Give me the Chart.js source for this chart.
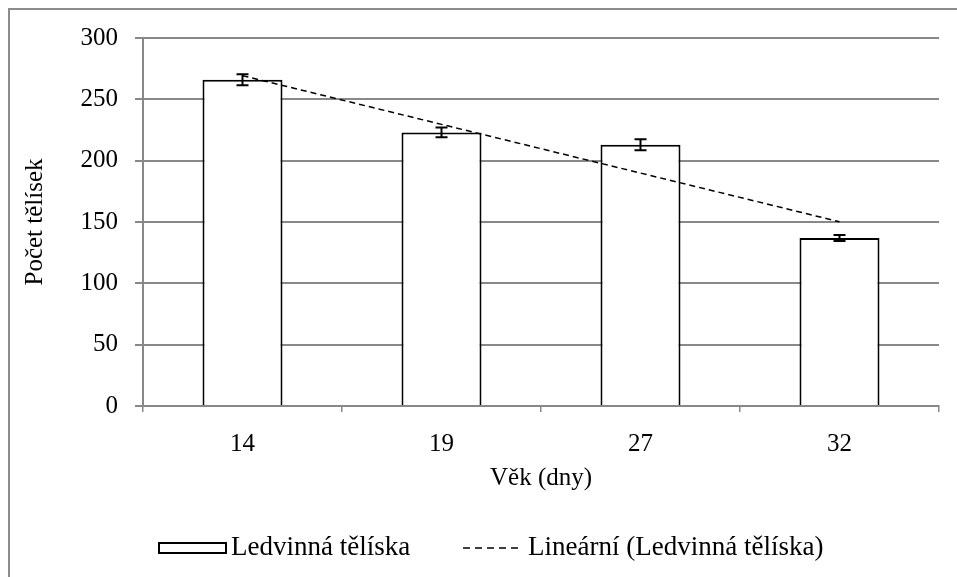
<!DOCTYPE html>
<html><head><meta charset="utf-8">
<script src="https://cdn.jsdelivr.net/npm/chart.js@4"></script>
<style>html,body{margin:0;padding:0;background:#fff;overflow:hidden}</style>
</head><body>
<canvas id="c" width="957" height="577" style="display:block;width:957px;height:577px"></canvas>
<script>
const categories = ['14', '19', '27', '32'];
const values = [266, 223, 213, 137];
const errors = [4.5, 4, 4.5, 2.5];
const yTickValues = [0, 50, 100, 150, 200, 250, 300];
const seriesName = 'Ledvinná tělíska';
const trendName = 'Lineární (Ledvinná tělíska)';
const xTitle = 'Věk (dny)';
const yTitle = 'Počet tělísek';

// Excel-style linear trendline (least squares over category index)
function linearTrend(v) {
  const n = v.length; let sx = 0, sy = 0, sxy = 0, sxx = 0;
  for (let i = 0; i < n; i++) { const x = i + 1; sx += x; sy += v[i]; sxy += x * v[i]; sxx += x * x; }
  const b = (n * sxy - sx * sy) / (n * sxx - sx * sx);
  const a = (sy - b * sx) / n;
  return v.map((_, i) => a + b * (i + 1));
}
const trend = linearTrend(values);

const GRID = '#888888';
const FONT = '"Liberation Serif", "Times New Roman", serif';
Chart.defaults.font.family = FONT;
Chart.defaults.color = '#000';

const frame = {
  id: 'frame',
  beforeDraw(chart) {
    const ctx = chart.ctx;
    ctx.save();
    ctx.fillStyle = '#fff';
    ctx.fillRect(0, 0, chart.width, chart.height);
    ctx.strokeStyle = '#8c8c8c';
    ctx.lineWidth = 2;
    ctx.strokeRect(9, 9, chart.width + 20, chart.height + 20);
    ctx.restore();
  }
};

const errorBars = {
  id: 'errorBars',
  afterDatasetsDraw(chart) {
    const ctx = chart.ctx;
    const meta = chart.getDatasetMeta(0);
    const y = chart.scales.y;
    ctx.save();
    ctx.strokeStyle = '#000';
    ctx.lineWidth = 2;
    meta.data.forEach((bar, i) => {
      const x = bar.x;
      const top = y.getPixelForValue(values[i] + errors[i]);
      const bot = y.getPixelForValue(values[i] - errors[i]);
      ctx.beginPath();
      ctx.moveTo(x, top); ctx.lineTo(x, bot);
      ctx.moveTo(x - 6, top); ctx.lineTo(x + 6, top);
      ctx.moveTo(x - 6, bot); ctx.lineTo(x + 6, bot);
      ctx.stroke();
    });
    ctx.restore();
  }
};

// Legend drawn in the chart's lower band (Excel-like layout)
const customLegend = {
  id: 'customLegend',
  afterDraw(chart) {
    const ctx = chart.ctx;
    const cy = 548;
    ctx.save();
    ctx.font = '27px ' + FONT;
    ctx.fillStyle = '#000';
    ctx.textBaseline = 'middle';
    ctx.textAlign = 'left';
    // bar swatch
    ctx.strokeStyle = '#000';
    ctx.lineWidth = 2;
    ctx.fillStyle = '#fff';
    ctx.fillRect(159, cy - 5, 67, 10);
    ctx.strokeRect(159, cy - 5, 67, 10);
    ctx.fillStyle = '#000';
    ctx.fillText(seriesName, 231, cy);
    // trend swatch
    ctx.beginPath();
    ctx.lineWidth = 1.5;
    ctx.setLineDash([7, 5]);
    ctx.moveTo(463, cy); ctx.lineTo(519, cy);
    ctx.stroke();
    ctx.setLineDash([]);
    ctx.fillText(trendName, 528, cy);
    ctx.restore();
  }
};

new Chart(document.getElementById('c'), {
  data: {
    labels: categories,
    datasets: [
      {
        type: 'bar', label: seriesName, data: values,
        backgroundColor: '#fff', borderColor: '#000', borderWidth: 2,
        borderSkipped: 'start',
        categoryPercentage: 0.8, barPercentage: 0.5025, order: 2
      },
      {
        type: 'line', label: trendName, data: trend,
        borderColor: '#000', borderWidth: 1.5, borderDash: [6, 4],
        pointRadius: 0, fill: false, tension: 0, order: 1
      }
    ]
  },
  options: {
    responsive: false, animation: false,
    layout: { padding: { top: 38, right: 18, left: 0, bottom: 0 } },
    plugins: {
      tooltip: { enabled: false },
      legend: { display: false }
    },
    scales: {
      x: {
        offset: true,
        grid: { display: true, drawOnChartArea: false, drawTicks: true, tickLength: 6, color: GRID, lineWidth: 1.5, offset: true },
        border: { display: true, color: GRID, width: 2 },
        ticks: { font: { size: 25 }, color: '#000', padding: 17 },
        title: { display: true, text: xTitle, font: { size: 25 }, color: '#000', padding: { top: 4, bottom: 84 } },
        afterFit(s) { s.height = 171; }
      },
      y: {
        min: 0, max: 300,
        afterBuildTicks(s) { s.ticks = yTickValues.map(v => ({ value: v })); },
        grid: { color: GRID, lineWidth: 2, tickLength: 8, drawTicks: true },
        border: { display: true, color: GRID, width: 2 },
        ticks: { font: { size: 25 }, color: '#000', padding: 17 },
        title: { display: true, text: yTitle, font: { size: 25 }, color: '#000', padding: { top: 20, bottom: 0 } },
        afterFit(s) { s.width = 143; }
      }
    }
  },
  plugins: [frame, errorBars, customLegend]
});
</script>
</body></html>
